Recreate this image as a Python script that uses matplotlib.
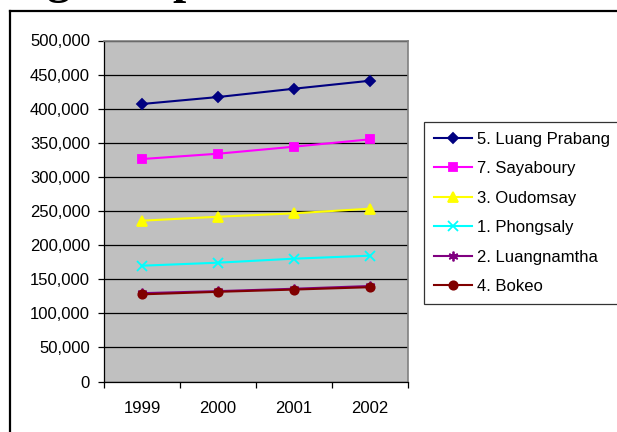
import matplotlib.pyplot as plt
from matplotlib.lines import Line2D
from matplotlib.ticker import FuncFormatter, FixedLocator

plt.rcParams['font.family'] = ['Liberation Sans', 'DejaVu Sans']

years = ['1999', '2000', '2001', '2002']
luang_prabang = [406900, 417100, 429300, 441000]
sayaboury = [326200, 334000, 344300, 355100]
oudomsay = [235800, 241600, 246600, 253400]
phongsaly = [169800, 174200, 180100, 184500]
luangnamtha = [129500, 132500, 136000, 140000]
bokeo = [127800, 131500, 134800, 138300]

series = [
    ('5. Luang Prabang', luang_prabang, '#000080', 'D', 5),
    ('7. Sayaboury', sayaboury, '#FF00FF', 's', 6),
    ('3. Oudomsay', oudomsay, '#FFFF00', '^', 7.5),
    ('1. Phongsaly', phongsaly, '#00FFFF', 'x', 7),
    ('2. Luangnamtha', luangnamtha, '#800080', (6, 2, 0), 7),
    ('4. Bokeo', bokeo, '#800000', 'o', 6),
]

W, H = 617, 432
fig = plt.figure(figsize=(W / 100, H / 100), dpi=100)
ax = fig.add_axes([104 / W, 1 - 381.5 / H, 304 / W, 341 / H])
ax.set_facecolor('#C0C0C0')

x = range(len(years))
for name, vals, color, marker, ms in series:
    ax.plot(x, vals, color=color, marker=marker, markersize=ms,
            markeredgecolor=color, markeredgewidth=1.3, linewidth=1.5,
            label=name, zorder=3)

ax.set_xlim(-0.5, 3.5)
ax.set_ylim(0, 500000)
ax.set_yticks(range(0, 500001, 50000))
ax.yaxis.set_major_formatter(FuncFormatter(lambda v, p: f'{v:,.0f}'))
ax.yaxis.grid(True, color='black', linewidth=0.9)
ax.set_axisbelow(True)

ax.set_xticks(list(x))
ax.set_xticklabels(years)
ax.xaxis.set_minor_locator(FixedLocator([-0.5, 0.5, 1.5, 2.5, 3.5]))
ax.tick_params(axis='x', which='major', length=0, pad=14, labelsize=12)
ax.tick_params(axis='x', which='minor', length=4, width=0.9, direction='out')
ax.tick_params(axis='y', length=4, width=0.9, pad=6, labelsize=12)

for side in ['left', 'bottom']:
    ax.spines[side].set_color('black')
    ax.spines[side].set_linewidth(0.9)
for side in ['right', 'top']:
    ax.spines[side].set_color('#808080')
    ax.spines[side].set_linewidth(1.2)

leg = fig.legend(loc='upper left', bbox_to_anchor=(424 / W, 1 - 122 / H),
                 fontsize=12, frameon=True, fancybox=False, shadow=False,
                 handlelength=2.3, handletextpad=0.3, borderpad=0.58,
                 labelspacing=0.87, borderaxespad=0)
leg.get_frame().set_edgecolor('black')
leg.get_frame().set_linewidth(0.9)

# outer chart frame, runs off the right and bottom of the picture
fig.add_artist(Line2D([9.5 / W, 9.5 / W], [0, 1 - 11 / H], color='black',
                      linewidth=1.6, transform=fig.transFigure))
fig.add_artist(Line2D([9.5 / W, 1], [1 - 11 / H, 1 - 11 / H], color='black',
                      linewidth=1.6, transform=fig.transFigure))

# title cut off at the top, only the descenders show
fig.text(47 / W, 1 + 7 / H, 'gion - p', fontsize=34, fontweight='bold',
         family='Liberation Serif', ha='left', va='baseline')

fig.savefig('out.png', dpi=100)
